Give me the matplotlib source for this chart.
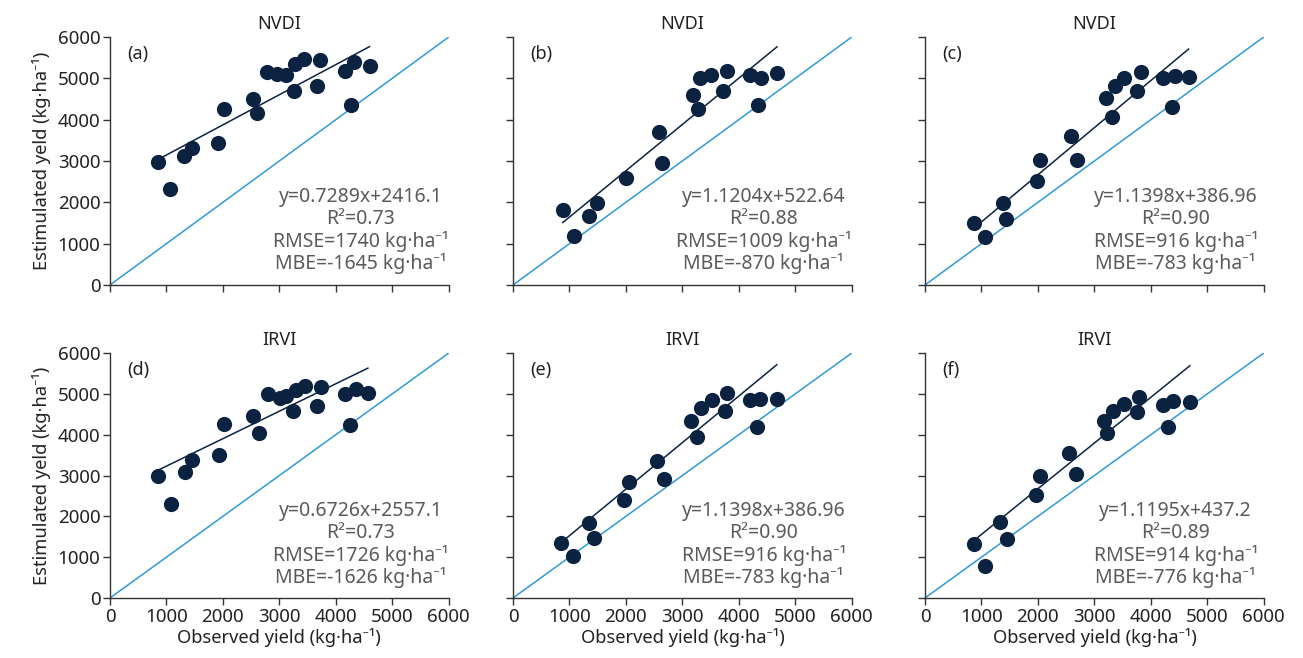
import numpy as np
import matplotlib.pyplot as plt

plt.rcParams['font.family'] = ['Noto Sans', 'DejaVu Sans']

# observed (x) and estimated (y) yield, kg/ha
xa = [855, 1061, 1314, 1444, 1916, 2016, 2534, 2605, 2782, 2959, 3112, 3271, 3259, 3436, 3713, 3666, 4167, 4320, 4273, 4597]
ya = [2964, 2334, 3109, 3319, 3432, 4264, 4498, 4159, 5160, 5112, 5079, 5354, 4700, 5475, 5451, 4805, 5184, 5402, 4361, 5289]

xb = [882, 1076, 1353, 1482, 2000, 2588, 2647, 3188, 3276, 3312, 3512, 3782, 3718, 4194, 4400, 4335, 4676]
yb = [1817, 1195, 1680, 1995, 2600, 3690, 2948, 4595, 4264, 5007, 5071, 5176, 4700, 5071, 4998, 4353, 5128]

xc = [872, 1061, 1373, 1432, 1992, 2045, 2593, 2688, 3200, 3312, 3360, 3525, 3831, 3749, 4220, 4432, 4373, 4668]
yc = [1510, 1155, 1995, 1607, 2519, 3012, 3593, 3028, 4514, 4062, 4805, 5007, 5160, 4700, 4998, 5047, 4304, 5031]

xd = [855, 1073, 1326, 1456, 1933, 2022, 2534, 2635, 2800, 3006, 3124, 3289, 3242, 3448, 3743, 3672, 4155, 4350, 4255, 4568]
yd = [2988, 2296, 3086, 3379, 3501, 4250, 4462, 4046, 5007, 4909, 4942, 5088, 4575, 5202, 5170, 4697, 5007, 5121, 4225, 5023]

xe = [850, 1062, 1339, 1440, 1971, 2047, 2549, 2667, 3156, 3257, 3327, 3522, 3788, 3746, 4201, 4377, 4330, 4673]
ye = [1343, 1018, 1848, 1465, 2402, 2849, 3362, 2914, 4331, 3948, 4657, 4860, 5031, 4575, 4860, 4876, 4176, 4876]

xf = [872, 1067, 1332, 1444, 1974, 2039, 2558, 2682, 3171, 3230, 3336, 3525, 3796, 3760, 4208, 4385, 4303, 4692]
yf = [1319, 773, 1872, 1441, 2532, 2996, 3541, 3037, 4339, 4030, 4583, 4762, 4925, 4559, 4738, 4827, 4176, 4795]

# fitted lines: slope, intercept
slopes = [0.7289, 1.1204, 1.1398, 0.6726, 1.1398, 1.1195]
intercepts = [2416.1, 522.64, 386.96, 2557.1, 386.96, 437.2]

eq_labels = ["y=0.7289x+2416.1", "y=1.1204x+522.64", "y=1.1398x+386.96",
             "y=0.6726x+2557.1", "y=1.1398x+386.96", "y=1.1195x+437.2"]
r2_labels = ["0.73", "0.88", "0.90", "0.73", "0.90", "0.89"]
rmse_labels = ["1740", "1009", "916", "1726", "916", "914"]
mbe_labels = ["-1645", "-870", "-783", "-1626", "-783", "-776"]
panel_tags = ["(a)", "(b)", "(c)", "(d)", "(e)", "(f)"]
titles = ["NVDI", "NVDI", "NVDI", "IRVI", "IRVI", "IRVI"]
ticks = [0, 1000, 2000, 3000, 4000, 5000, 6000]

xs = [xa, xb, xc, xd, xe, xf]
ys = [ya, yb, yc, yd, ye, yf]

navy = "#0b2341"
blue = "#2e9ad8"
grey = "#5a5a5a"
unit = "kg\u00b7ha\u207b\u00b9"

fig = plt.figure(figsize=(13.03, 6.58), dpi=100)

lefts = [0.0844, 0.3937, 0.7099]
bottoms = [0.5669, 0.0912]
heights = [0.3769, 0.3723]

for i in range(6):
    row, col = divmod(i, 3)
    ax = fig.add_axes([lefts[col], bottoms[row], 0.260, heights[row]])
    x = np.array(xs[i])
    y = np.array(ys[i])

    ax.plot([0, 6000], [0, 6000], color=blue, lw=1.1, zorder=1)
    fx = np.array([x.min(), x.max()])
    ax.plot(fx, slopes[i] * fx + intercepts[i], color=navy, lw=1.1, zorder=2)
    ax.scatter(x, y, s=120, color=navy, zorder=3, linewidths=0)

    ax.set_xlim(0, 6000)
    ax.set_ylim(0, 6000)
    ax.set_xticks(ticks)
    ax.set_yticks(ticks)
    for s in ["top", "right"]:
        ax.spines[s].set_visible(False)
    for s in ["left", "bottom"]:
        ax.spines[s].set_color("#333333")
        ax.spines[s].set_linewidth(1.0)
    ax.tick_params(direction="out", length=5, width=1, color="#333333",
                   labelsize=13.5, labelcolor="#222222", pad=2)
    if col != 0:
        ax.set_yticklabels([])
    else:
        ax.set_ylabel("Estimulated yeld (" + unit + ")", fontsize=13.2,
                      color="#222222", labelpad=5)
    if row == 0:
        ax.set_xticklabels([])
    else:
        ax.set_xlabel("Observed yield (" + unit + ")", fontsize=13.2,
                      color="#222222", labelpad=2)

    ax.set_title(titles[i], fontsize=13, color="#222222", pad=6)
    ax.text(0.05, 0.93, panel_tags[i], transform=ax.transAxes,
            fontsize=13, color="#222222", va="center", ha="left")

    lines = [eq_labels[i], "R\u00b2=" + r2_labels[i],
             "RMSE=" + rmse_labels[i] + " " + unit,
             "MBE=" + mbe_labels[i] + " " + unit]
    for k, t in enumerate(lines):
        ax.text(0.74, 0.355 - k * 0.09, t, transform=ax.transAxes,
                fontsize=14, color=grey, ha="center", va="center")

fig.savefig("out.png", dpi=100)
